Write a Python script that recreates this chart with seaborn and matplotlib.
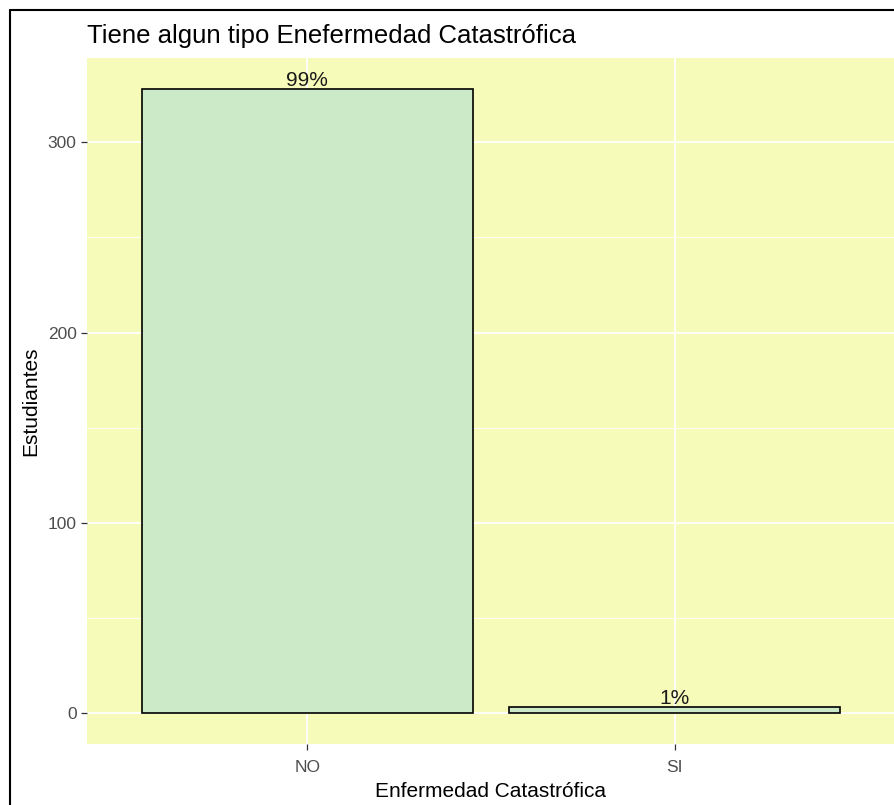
import matplotlib
matplotlib.use("Agg")
import matplotlib.pyplot as plt
import seaborn as sns
import pandas as pd
from matplotlib.lines import Line2D

categories = ["NO", "SI"]
counts = [328, 3]
labels = ["99%", "1%"]

sns.set_theme(style="white")
plt.rcParams['font.family'] = ['Liberation Sans', 'DejaVu Sans']

df = pd.DataFrame({"cat": categories, "n": counts})

fig = plt.figure(figsize=(8.95, 8.05), dpi=100)
ax = fig.add_axes([87/895, 1 - 744/805, (895 - 87)/895, (744 - 58)/805])
ax.set_facecolor("#F7FBB9")

sns.barplot(data=df, x="cat", y="n", ax=ax, color="#CCE9C8", width=0.9,
            edgecolor="black", linewidth=1.2, saturation=1, zorder=3)

ax.set_xlim(-0.6, 1.6)
ax.set_ylim(-16.4, 344.4)
ax.set_yticks([0, 100, 200, 300])
ax.set_yticks([50, 150, 250], minor=True)
ax.grid(True, which="major", color="white", linewidth=1.3, zorder=0)
ax.grid(True, which="minor", axis="y", color="white", linewidth=0.6, zorder=0)
ax.set_axisbelow(True)
for s in ax.spines.values():
    s.set_visible(False)

ax.tick_params(axis="both", which="major", length=4.5, width=0.9, color="#333333",
               labelcolor="#4D4D4D", labelsize=12.5, pad=3, left=True, bottom=True)
ax.tick_params(axis="x", which="major", pad=7)
ax.tick_params(axis="both", which="minor", length=0)

for i, (c, lab) in enumerate(zip(counts, labels)):
    ax.text(i, c - 0.5, lab, ha="center", va="bottom", fontsize=15, color="#1A1A1A", zorder=4)

ax.set_xlabel("Enfermedad Catastrófica", fontsize=15, color="black", labelpad=5)
ax.set_ylabel("Estudiantes", fontsize=15, color="black", labelpad=5)
fig.text(87/895, 1 - 36/805, "Tiene algun tipo Enefermedad Catastrófica",
         fontsize=18.5, color="black", ha="left", va="center")

# screenshot frame
fig.add_artist(Line2D([10/895, 10/895], [0, 1 - 10/805], transform=fig.transFigure,
                      color="black", linewidth=1.5))
fig.add_artist(Line2D([10/895, 1], [1 - 10/805, 1 - 10/805], transform=fig.transFigure,
                      color="black", linewidth=1.5))

fig.savefig("out.png", dpi=100)
